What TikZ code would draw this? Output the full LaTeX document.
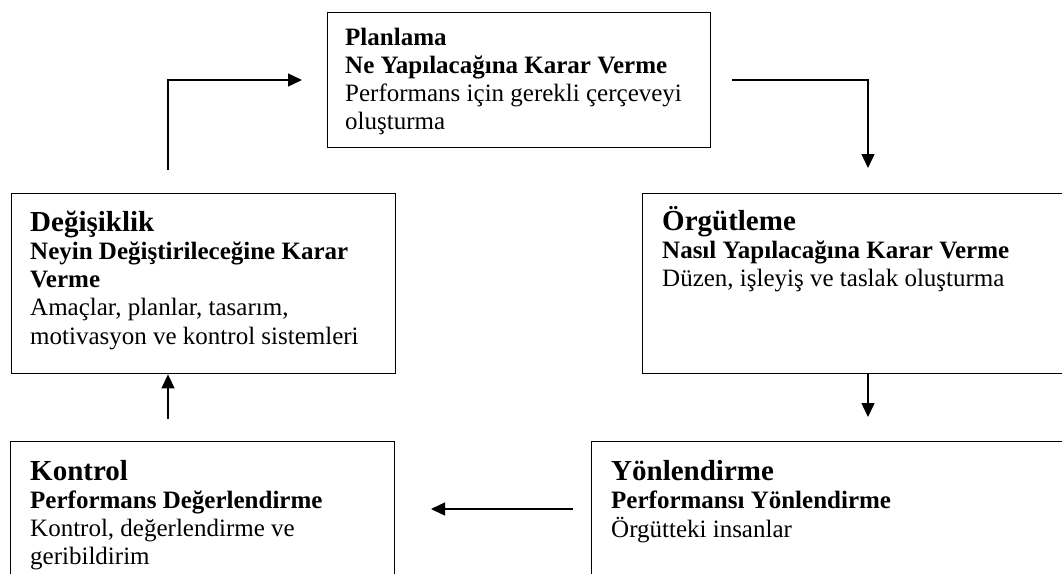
\documentclass[tikz,border=0pt]{standalone}
\usepackage{fontspec}
\setmainfont{Liberation Serif}
\usetikzlibrary{arrows.meta}

\tikzset{
  box/.style={draw, line width=1.4pt, inner sep=0pt, anchor=north west},
  flow/.style={line width=1.4pt, -{Triangle[length=14pt,width=13pt]}},
  boxtext/.style={anchor=base west, inner sep=0pt, font=\fontsize{25}{28.3}\selectfont},
}
\newcommand{\stagetitle}[1]{{\fontsize{29}{34}\selectfont\textbf{#1}}}

\begin{document}
\begin{tikzpicture}[x=1pt, y=-1pt]
  \useasboundingbox (0,0) rectangle (1062,573);
  \fill[white] (0,0) rectangle (1062,573);
  \clip (0,0) rectangle (1062,573);

  % stage boxes
  \node[box, minimum width=383pt, minimum height=135pt] (plan) at (327,12) {};
  \node[box, minimum width=384pt, minimum height=180pt] (chg)  at (11,193) {};
  \node[box, minimum width=440pt, minimum height=180pt] (org)  at (642,193) {};
  \node[box, minimum width=384pt, minimum height=160pt] (ctl)  at (10,441) {};
  \node[box, minimum width=490pt, minimum height=160pt] (dir)  at (591,441) {};

  % box contents
  \node[boxtext] (plantext) at (345,45) {\begin{tabular}[t]{@{}l@{}}
    \textbf{Planlama}\\
    \textbf{Ne Yapılacağına Karar Verme}\\
    Performans için gerekli çerçeveyi\\
    oluşturma\end{tabular}};
  \node[boxtext] (chgtext) at (30,231) {\begin{tabular}[t]{@{}l@{}}
    \stagetitle{Değişiklik}\\
    \textbf{Neyin Değiştirileceğine Karar}\\
    \textbf{Verme}\\
    Amaçlar, planlar, tasarım,\\
    motivasyon ve kontrol sistemleri\end{tabular}};
  \node[boxtext] (orgtext) at (662,230) {\begin{tabular}[t]{@{}l@{}}
    \stagetitle{Örgütleme}\\
    \textbf{Nasıl Yapılacağına Karar Verme}\\
    Düzen, işleyiş ve taslak oluşturma\end{tabular}};
  \node[boxtext] (ctltext) at (30,480) {\begin{tabular}[t]{@{}l@{}}
    \stagetitle{Kontrol}\\
    \textbf{Performans Değerlendirme}\\
    Kontrol, değerlendirme ve\\
    geribildirim\end{tabular}};
  \node[boxtext] (dirtext) at (611,480) {\begin{tabular}[t]{@{}l@{}}
    \stagetitle{Yönlendirme}\\
    \textbf{Performansı Yönlendirme}\\
    Örgütteki insanlar\end{tabular}};

  % free ends of the connectors
  \coordinate (c1s) at (168,170);
  \coordinate (c1e) at (302,80);
  \coordinate (c2s) at (732,80);
  \coordinate (c2e) at (868,168);
  \coordinate (c3e) at (868,417);
  \coordinate (c4s) at (573,509);
  \coordinate (c4e) at (431,509);
  \coordinate (c5s) at (168,419);

  % cycle connectors
  \draw[flow] (c1s) |- (c1e);
  \draw[flow] (c2s) -| (c2e);
  \draw[flow] (c3e |- org.south) -- (c3e);
  \draw[flow] (c4s) -- (c4e);
  \draw[flow] (c5s) -- (c5s |- chg.south);
\end{tikzpicture}
\end{document}
